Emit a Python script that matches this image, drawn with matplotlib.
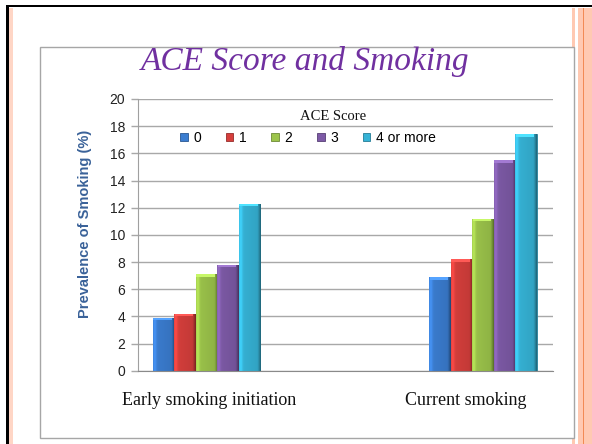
import numpy as np
import matplotlib
matplotlib.use("Agg")
import matplotlib.pyplot as plt
from matplotlib.patches import Rectangle, Patch
from matplotlib.colors import to_rgb

# ---- data -------------------------------------------------------------
categories = ["Early smoking initiation", "Current smoking"]
ace_scores = ["0", "1", "2", "3", "4 or more"]
score_0 = [3.9, 6.9]
score_1 = [4.2, 8.2]
score_2 = [7.1, 11.2]
score_3 = [7.8, 15.5]
score_4_plus = [12.3, 17.4]
series = [score_0, score_1, score_2, score_3, score_4_plus]
colors = ["#3B7DD0", "#D63F3C", "#9CC44B", "#7D5AA6", "#36B3D6"]
y_ticks = [0, 2, 4, 6, 8, 10, 12, 14, 16, 18, 20]

W, H = 592, 444
fig = plt.figure(figsize=(W / 100, H / 100), dpi=100)
fig.patch.set_facecolor("white")


def fx(x):
    return x / W


def fy(y):
    return 1 - y / H


# ---- slide frame ------------------------------------------------------
def frame_rect(x0, y0, x1, y1, color, z=0):
    fig.add_artist(Rectangle((fx(x0), fy(y1)), fx(x1) - fx(x0), fy(y0) - fy(y1),
                             transform=fig.transFigure, facecolor=color,
                             edgecolor="none", zorder=z))


frame_rect(9, 8, 13, 444, "#FFD6C6")
frame_rect(572, 8, 575, 444, "#FFC9B2")
frame_rect(578, 8, 592, 444, "#FFC9B2")
frame_rect(582.5, 8, 584, 444, "#F28A55")
frame_rect(6, 5, 592, 7.5, "#000000", 1)
frame_rect(6, 5, 8.5, 444, "#000000", 1)

# inner chart box
fig.add_artist(Rectangle((fx(39.5), fy(438)), fx(574) - fx(39.5), fy(47) - fy(438),
                         transform=fig.transFigure, facecolor="white",
                         edgecolor="#A6A6A6", linewidth=1.0, zorder=0.5))

# ---- axes -------------------------------------------------------------
ax_left, ax_right, ax_top, ax_bottom = 137.7, 552.7, 99.0, 370.7
ax = fig.add_axes([fx(ax_left), fy(ax_bottom), fx(ax_right) - fx(ax_left),
                   fy(ax_top) - fy(ax_bottom)])
ax.set_facecolor("none")
ax.set_zorder(2)

bar_w = 0.0777
group_x = np.arange(len(categories))
n = len(series)


def shade_bar(patch, base):
    """Overlay a horizontal light-to-dark gradient to give the bar a rounded look."""
    x0, y0 = patch.get_x(), patch.get_y()
    w, h = patch.get_width(), patch.get_height()
    t = np.linspace(0, 1, 64)
    f = np.ones_like(t)
    f = f + 0.18 * np.exp(-((t - 0.08) / 0.08) ** 2)
    f = f - 0.10 * t
    f = f - 0.35 * np.clip((t - 0.84) / 0.16, 0, 1) ** 1.2
    rgb = np.array(to_rgb(base))
    img = np.clip(rgb[None, :] * f[:, None], 0, 1)[None, :, :]
    im = ax.imshow(img, extent=(x0, x0 + w, y0, y0 + h), aspect="auto",
                   interpolation="bilinear", zorder=3, origin="lower")
    im.set_clip_path(patch)
    # light cap on top
    cap_h = 0.2
    cap = Rectangle((x0 + w * 0.02, y0 + h - cap_h), w * 0.86, cap_h,
                    facecolor=np.clip(rgb * 1.18 + 0.06, 0, 1),
                    edgecolor="none", zorder=3.5)
    ax.add_patch(cap)


for i, (vals, col) in enumerate(zip(series, colors)):
    xs = group_x + (i - (n - 1) / 2) * bar_w
    bars = ax.bar(xs, vals, width=bar_w, color=col,
                  edgecolor=np.clip(np.array(to_rgb(col)) * 0.7, 0, 1),
                  linewidth=0.6, zorder=2.5, label=ace_scores[i])
    for b in bars:
        shade_bar(b, col)

ax.set_xlim(-0.249, 1.252)
ax.set_ylim(0, 20)
ax.set_yticks(y_ticks)
ax.set_yticklabels([str(v) for v in y_ticks], fontsize=10, family="Liberation Sans",
                   color="#222222")
ax.yaxis.grid(True, color="#A8A8A8", linewidth=1.0, zorder=1)
ax.set_axisbelow(True)
ax.tick_params(axis="y", length=5, width=1, color="#A8A8A8", direction="out", pad=4)

label_pos = [0.009, 0.9385]
ax.set_xticks(label_pos)
ax.set_xticklabels(categories, fontsize=13, family="Liberation Serif", color="#111111")
ax.tick_params(axis="x", length=0, pad=15)

for s in ["top", "right"]:
    ax.spines[s].set_visible(False)
ax.spines["left"].set_color("#A0A0A0")
ax.spines["bottom"].set_color("#8A8A8A")
ax.spines["bottom"].set_zorder(4)

ax.set_ylabel("Prevalence of Smoking (%)", fontsize=10.5, fontweight="bold",
              family="Liberation Sans", color="#3A6299")
ax.yaxis.set_label_coords((92 - ax_left) / (ax_right - ax_left),
                          (ax_bottom - 224) / (ax_bottom - ax_top))

# ---- legend -----------------------------------------------------------
handles = [Patch(facecolor=c, edgecolor=np.clip(np.array(to_rgb(c)) * 0.7, 0, 1),
                 linewidth=0.6) for c in colors]
fig.legend(handles, ace_scores, loc="center", ncol=5, frameon=False,
           bbox_to_anchor=(fx(308), fy(137.7)),
           prop={"family": "Liberation Sans", "size": 10},
           handlelength=0.55, handleheight=0.55, handletextpad=0.4,
           columnspacing=1.78, borderpad=0.2)
fig.text(fx(333), fy(116), "ACE Score", ha="center", va="center",
         fontsize=10.5, family="Liberation Serif", color="#111111")

# ---- title ------------------------------------------------------------
fig.text(fx(305), fy(70), "ACE Score and Smoking", ha="center", va="baseline",
         fontsize=24, family="Liberation Serif", style="italic", color="#7030A0",
         zorder=3)

fig.savefig("out.png", dpi=100)
